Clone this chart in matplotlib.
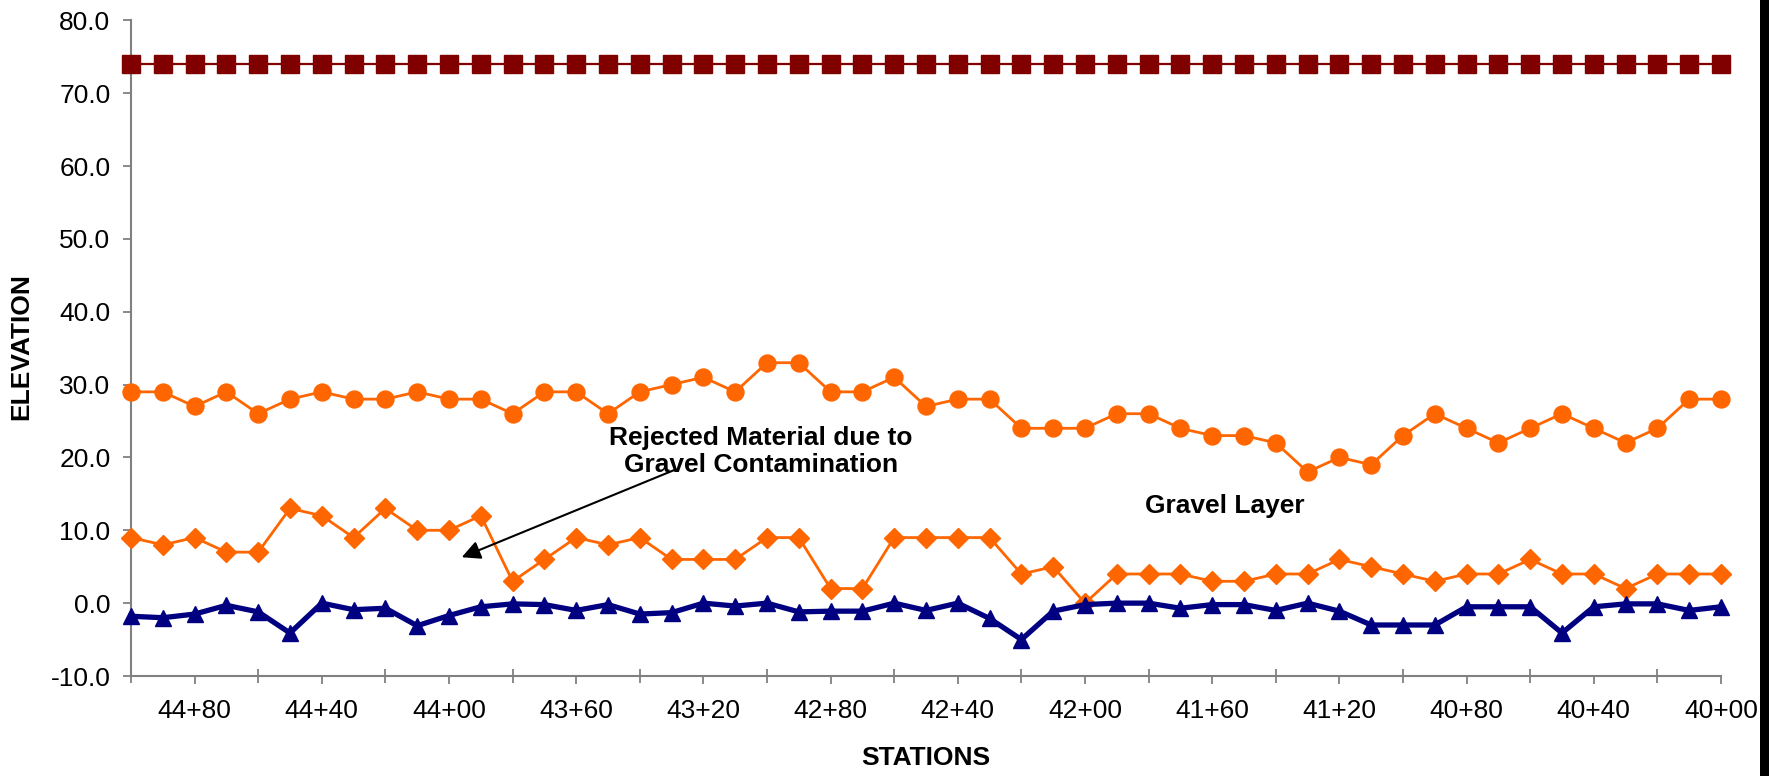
import matplotlib
matplotlib.use("Agg")
import matplotlib.pyplot as plt
from matplotlib.patches import Rectangle
from matplotlib.ticker import FixedLocator, FuncFormatter

plt.rcParams['font.family'] = ['Liberation Sans', 'DejaVu Sans']

# Stations (feet), plotted right-to-left from 45+00 to 40+00
stations = list(range(4500, 3999, -10))

excavation_top = [74.0, 74.0, 74.0, 74.0, 74.0, 74.0, 74.0, 74.0, 74.0, 74.0,
                  74.0, 74.0, 74.0, 74.0, 74.0, 74.0, 74.0, 74.0, 74.0, 74.0,
                  74.0, 74.0, 74.0, 74.0, 74.0, 74.0, 74.0, 74.0, 74.0, 74.0,
                  74.0, 74.0, 74.0, 74.0, 74.0, 74.0, 74.0, 74.0, 74.0, 74.0,
                  74.0, 74.0, 74.0, 74.0, 74.0, 74.0, 74.0, 74.0, 74.0, 74.0,
                  74.0]

gravel_top = [29, 29, 27, 29, 26, 28, 29, 28, 28, 29, 28, 28, 26, 29, 29,
              26, 29, 30, 31, 29, 33, 33, 29, 29, 31, 27, 28, 28, 24, 24, 24, 26, 26,
              24, 23, 23, 22, 18, 20, 19, 23, 26, 24, 22, 24, 26, 24, 22, 24, 28, 28]

gravel_bottom = [9, 8, 9, 7, 7, 13, 12, 9, 13, 10, 10, 12, 3, 6, 9,
                 8, 9, 6, 6, 6, 9, 9, 2, 2, 9, 9, 9, 9, 4, 5, 0, 4, 4,
                 4, 3, 3, 4, 4, 6, 5, 4, 3, 4, 4, 6, 4, 4, 2, 4, 4, 4]

base = [-1.8, -2.0, -1.5, -0.3, -1.2, -4.1, 0.0, -0.9, -0.7, -3.1, -1.7, -0.5, -0.1, -0.2, -1.0,
        -0.2, -1.5, -1.3, 0.0, -0.4, 0.0, -1.2, -1.1, -1.1, 0.0, -1.0, 0.0, -2.1, -5.0, -1.1, -0.2, 0.0, 0.0,
        -0.7, -0.2, -0.2, -1.0, 0.0, -1.1, -3.0, -3.0, -3.0, -0.5, -0.5, -0.5, -4.1, -0.5, -0.1, -0.1, -1.0, -0.5]

labeled_stations = [4480, 4440, 4400, 4360, 4320, 4280, 4240, 4200, 4160, 4120, 4080, 4040, 4000]
unlabeled_stations = [4500, 4460, 4420, 4380, 4340, 4300, 4260, 4220, 4180, 4140, 4100, 4060, 4020]
y_ticks = [-10, 0, 10, 20, 30, 40, 50, 60, 70, 80]


def sta_fmt(s, pos=None):
    s = int(round(s))
    return f"{s // 100}+{s % 100:02d}"


W, H = 1769, 776
fig = plt.figure(figsize=(W / 100, H / 100), dpi=100)
fig.patch.set_facecolor('white')
ax = fig.add_axes([131 / W, 1 - 676 / H, (1721 - 131) / W, (676 - 20.3) / H])

orange = '#FF6600'
ax.plot(stations, excavation_top, color='#800000', lw=1.6, marker='s', ms=12.4,
        mec='#800000', mfc='#800000', clip_on=False, zorder=3)
ax.plot(stations, gravel_top, color=orange, lw=2.0, marker='o', ms=12.2,
        mec=orange, mfc=orange, clip_on=False, zorder=3)
ax.plot(stations, gravel_bottom, color=orange, lw=2.0, marker='D', ms=10.2,
        mec=orange, mfc=orange, clip_on=False, zorder=3)
ax.plot(stations, base, color='#000080', lw=3.8, marker='^', ms=12.0,
        mec='#000080', mfc='#000080', clip_on=False, zorder=4)

ax.set_xlim(4500, 4000)
ax.set_ylim(-10, 80)

for side in ('top', 'right'):
    ax.spines[side].set_visible(False)
for side in ('left', 'bottom'):
    ax.spines[side].set_color('#808080')
    ax.spines[side].set_linewidth(1.5)

ax.xaxis.set_major_locator(FixedLocator(labeled_stations))
ax.xaxis.set_minor_locator(FixedLocator(unlabeled_stations))
ax.xaxis.set_major_formatter(FuncFormatter(sta_fmt))
ax.set_yticks(y_ticks)
ax.yaxis.set_major_formatter(FuncFormatter(lambda v, p: f"{v:.1f}"))

ax.tick_params(axis='x', which='major', direction='out', length=5.8, width=1.3,
               color='#808080', labelsize=19, pad=11)
ax.tick_params(axis='x', which='minor', direction='inout', length=9.4, width=1.3,
               color='#808080')
ax.tick_params(axis='y', which='major', direction='out', length=5.8, width=1.3,
               color='#808080', labelsize=19, pad=9)

fig.text(21.7 / W, 1 - 347 / H, 'ELEVATION', rotation=90, ha='center', va='center',
         fontsize=19, fontweight='bold')
fig.text(926 / W, 1 - 758 / H, 'STATIONS', ha='center', va='center',
         fontsize=19, fontweight='bold')

ax.annotate('', xy=(4396, 6.3), xytext=(4329, 18.3),
            arrowprops=dict(arrowstyle='-|>', color='black', lw=1.5,
                            mutation_scale=28, shrinkA=0, shrinkB=0))
ax.text(4302, 20.8, 'Rejected Material due to\nGravel Contamination',
        ha='center', va='center', fontsize=19, fontweight='bold', linespacing=1.15)
ax.text(4156, 13.4, 'Gravel Layer', ha='center', va='center', fontsize=19,
        fontweight='bold')

fig.add_artist(Rectangle((1760 / W, 0), 9 / W, 1, transform=fig.transFigure,
                         facecolor='black', edgecolor='none'))

fig.savefig('out.png', dpi=100)
